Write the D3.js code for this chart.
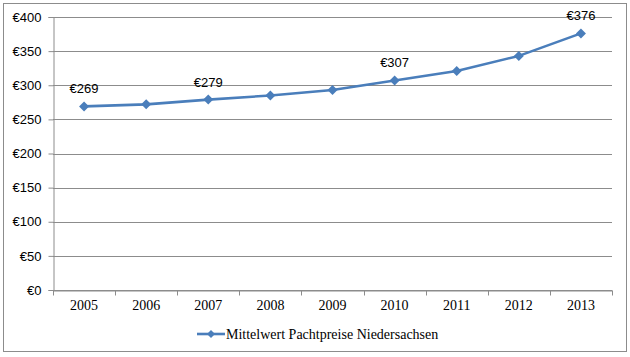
<!DOCTYPE html>
<html><head><meta charset="utf-8">
<script src="https://cdn.jsdelivr.net/npm/d3@7"></script>
<style>body{margin:0;background:#fff}svg{display:block}</style>
</head><body>
<script>
const years = ["2005","2006","2007","2008","2009","2010","2011","2012","2013"];
const values = [269, 272, 279, 285, 293, 307, 321, 343, 376];
const labeledYears = ["2005","2007","2010","2013"];
const yTicks = [0,50,100,150,200,250,300,350,400];
const seriesName = "Mittelwert Pachtpreise Niedersachsen";

const W = 630, H = 357;
const m = {left:53, right:612, top:17, bottom:290};
const svg = d3.select("body").append("svg").attr("width",W).attr("height",H);
svg.append("rect").attr("x",3.5).attr("y",3.5).attr("width",623).attr("height",348)
  .attr("fill","#fff").attr("stroke","#8c8c8c").attr("stroke-width",1);

const x = d3.scaleBand().domain(years).range([m.left,m.right]);
const y = d3.scaleLinear().domain([0,400]).range([m.bottom,m.top]);

const diamond = r => `M0,${-r}L${r},0L0,${r}L${-r},0Z`;

// gridlines
svg.append("g").selectAll("line").data(yTicks).join("line")
  .attr("x1",m.left).attr("x2",m.right)
  .attr("y1",d=>Math.round(y(d))+0.5).attr("y2",d=>Math.round(y(d))+0.5)
  .attr("stroke","#8c8c8c").attr("stroke-width",1);

// y axis
const ya = svg.append("g").attr("transform",`translate(${m.left+0.5},0)`)
  .call(d3.axisLeft(y).tickValues(yTicks).tickSize(5).tickPadding(7).tickFormat(d=>"€"+d));
ya.select(".domain").attr("stroke","#8c8c8c");
ya.selectAll(".tick line").attr("stroke","#8c8c8c");
ya.selectAll("text").attr("font-family","'Liberation Sans', Arial, sans-serif").attr("font-size","13px").attr("fill","#000");

// x axis
const xa = svg.append("g").attr("transform",`translate(0,${Math.round(y(0))+0.5})`)
  .call(d3.axisBottom(x).tickSize(0).tickPadding(10));
xa.select(".domain").attr("stroke","#8c8c8c");
xa.selectAll("text").attr("font-family","'Liberation Serif','Times New Roman',serif").attr("font-size","14px").attr("fill","#000");
// category boundary ticks
const bounds = years.map(d=>x(d)).concat([m.right]);
xa.append("g").selectAll("line").data(bounds).join("line")
  .attr("x1",d=>Math.round(d)+0.5).attr("x2",d=>Math.round(d)+0.5).attr("y1",0).attr("y2",5)
  .attr("stroke","#8c8c8c");

const cx = d => x(d) + x.bandwidth()/2;
const data = years.map((yr,i)=>({yr, v:values[i]}));

svg.append("path").datum(data)
  .attr("fill","none").attr("stroke","#4a7ebb").attr("stroke-width",2.6).attr("stroke-linejoin","round")
  .attr("d", d3.line().x(d=>cx(d.yr)).y(d=>y(d.v)));

svg.append("g").selectAll("path").data(data).join("path")
  .attr("transform",d=>`translate(${cx(d.yr)},${y(d.v)})`)
  .attr("d", diamond(5))
  .attr("fill","#4a7ebb");

svg.append("g").selectAll("text").data(data.filter(d=>labeledYears.includes(d.yr))).join("text")
  .attr("x",d=>cx(d.yr)).attr("y",d=>y(d.v)-13)
  .attr("text-anchor","middle")
  .attr("font-family","'Liberation Sans', Arial, sans-serif").attr("font-size","13px").attr("fill","#000")
  .text(d=>"€"+d.v);

// legend
const lg = svg.append("g").attr("transform","translate(197,334)");
lg.append("line").attr("x1",0).attr("x2",28).attr("y1",0).attr("y2",0)
  .attr("stroke","#4a7ebb").attr("stroke-width",2.6);
lg.append("path").attr("transform","translate(14,0)").attr("d",diamond(4)).attr("fill","#4a7ebb");
lg.append("text").attr("x",29).attr("y",4.5).attr("font-family","'Liberation Serif','Times New Roman',serif")
  .attr("font-size","14px").attr("fill","#000").text(seriesName);
</script>
</body></html>
